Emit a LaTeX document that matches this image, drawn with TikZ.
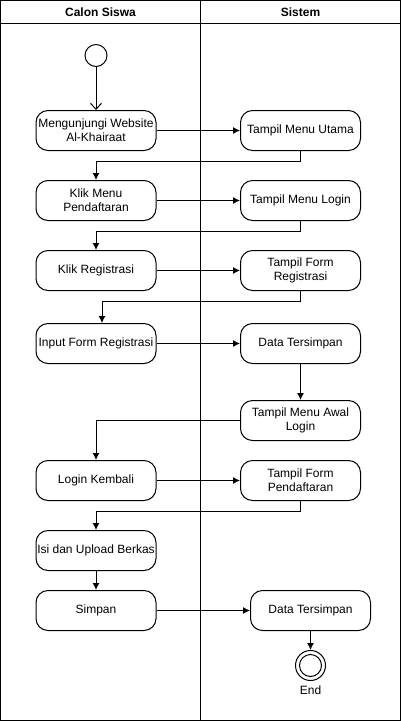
\documentclass[tikz,border=0pt]{standalone}
\usepackage{fontspec}
\setmainfont{Liberation Sans}
\usetikzlibrary{shapes}
\usetikzlibrary{positioning}
\usetikzlibrary{arrows.meta}
\tikzset{
    actnode/.style = {rectangle, rounded corners=12pt, draw=black, line width=1pt, align=center, minimum width=120pt, minimum height=40pt, inner sep=1pt, font=\fontsize{12}{14}\selectfont},
    startnode/.style = {circle, draw=black, line width=1pt, minimum size=22pt, inner sep=0pt},
    endnode/.style = {circle, draw=black, line width=1pt, minimum size=30pt, inner sep=0pt},
    lanetitle/.style = {font=\fontsize{12}{14}\selectfont\bfseries},
    edgen/.style = {-{Latex[length=7pt,width=7pt]}, line width=1pt},
    edgeo/.style = {-{Straight Barb[length=6pt,width=11pt]}, line width=1pt}, % from start
}
\begin{document}
\begin{tikzpicture}[x=1pt,y=-1pt]
  \useasboundingbox (-0.5,-0.5) rectangle (400.5,720.5);
  % swimlanes
  \draw[line width=1pt] (0,0) rectangle (400,720);
  \draw[line width=1pt] (0,23) -- (400,23);
  \draw[line width=1pt] (200,0) -- (200,720);
  \node[lanetitle] (siswa) at (100,12) {Calon Siswa};
  \node[lanetitle] (sistem) at (300,12) {Sistem};

  \node[startnode] (start) at (95.5,55) {};
  \node[actnode] (a1) at (95.5,130) {Mengunjungi Website\\Al-Khairaat};
  \node[actnode] (b1) at (300,130) {Tampil Menu Utama};
  \node[actnode] (a2) at (95.5,200) {Klik Menu\\Pendaftaran};
  \node[actnode] (b2) at (300,200) {Tampil Menu Login};
  \node[actnode] (a3) at (95.5,270) {Klik Registrasi};
  \node[actnode] (b3) at (300,270) {Tampil Form\\Registrasi};
  \node[actnode] (a4) at (95.5,343) {Input Form Registrasi};
  \node[actnode] (b4) at (300,343) {Data Tersimpan};
  \node[actnode] (b5) at (300,420) {Tampil Menu Awal\\Login};
  \node[actnode] (a5) at (95.5,480) {Login Kembali};
  \node[actnode] (b6) at (300,480) {Tampil Form\\Pendaftaran};
  \node[actnode] (a6) at (95.5,550) {Isi dan Upload Berkas};
  \node[actnode] (a7) at (95.5,610) {Simpan};
  \node[actnode] (b7) at (310,610) {Data Tersimpan};
  \node[endnode] (end) at (310,665) {};
  \node[circle, fill=white, draw=black, line width=1pt, minimum size=22pt, inner sep=0pt] (endin) at (end) {};
  \node[font=\fontsize{12}{14}\selectfont] (endlbl) at (310,690) {End};

  \draw[edgeo] (start) -- (a1);
  \draw[edgen] (a1) -- (b1);
  \draw[edgen] (b1.south) -- ++(0,10) -| (a2.north);
  \draw[edgen] (a2) -- (b2);
  \draw[edgen] (b2.south) -- ++(0,10) -| (a3.north);
  \draw[edgen] (a3) -- (b3);
  \draw[edgen] (b3.south) -- ++(0,10) -| ([xshift=6pt]a4.north);
  \draw[edgen] (a4) -- (b4);
  \draw[edgen] (b4) -- (b5);
  \draw[edgen] (b5.west) -| (a5.north);
  \draw[edgen] (a5) -- (b6);
  \draw[edgen] (b6.south) -- ++(0,10) -| (a6.north);
  \draw[edgen] (a6) -- (a7);
  \draw[edgen] (a7) -- (b7);
  \draw[edgen] (b7) -- (end);
\end{tikzpicture}
\end{document}
